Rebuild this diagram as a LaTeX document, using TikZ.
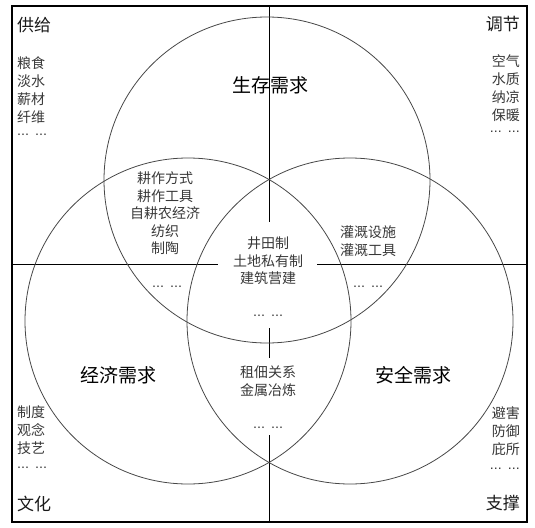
\documentclass[tikz,border=0pt]{standalone}
\usepackage{fontspec}
\setmainfont{Noto Sans CJK SC}
\newfontfamily\dejavu{DejaVu Sans}
\begin{document}
\begin{tikzpicture}[x=1pt,y=-1pt,
  frame/.style={draw=black, line width=1.1pt},
  divider/.style={draw=black, line width=1pt},
  ring/.style={draw=black!72, line width=0.8pt},
  head/.style={font=\fontsize{17}{17}\selectfont, text=black!90, inner sep=0pt},
  big/.style={font=\fontsize{19}{19}\selectfont, text=black, inner sep=0pt},
  lst/.style={font=\fontsize{14}{18}\selectfont, text=black!78, inner sep=0pt},
  lens/.style={font=\fontsize{14}{17.5}\selectfont, text=black!78, inner sep=0pt, align=center},
  dots/.style={font=\dejavu\fontsize{12}{12}\selectfont, text=black!85, inner sep=0pt},
]
\useasboundingbox (0,0) rectangle (535,527);
\newcommand{\mydots}{⋯\hspace{6pt}⋯}

% frame and dividers
\draw[frame] (12,6) rectangle (527,522);
\coordinate (vt) at (269.5,6);
\coordinate (va) at (269.5,222);
\coordinate (vb) at (269.5,328);
\coordinate (vc) at (269.5,358);
\coordinate (vd) at (269.5,435);
\coordinate (ve) at (269.5,522);
\coordinate (hl) at (12,264);
\coordinate (ha) at (218,264);
\coordinate (hb) at (317,264);
\coordinate (hr) at (527,264);
\draw[divider] (vt) -- (va);
\draw[divider] (vb) -- (vc);
\draw[divider] (vd) -- (ve);
\draw[divider] (hl) -- (ha);
\draw[divider] (hb) -- (hr);

% circles
\draw[ring] (267,180) circle[radius=163pt];
\draw[ring] (188,321) circle[radius=163pt];
\draw[ring] (350,321) circle[radius=163pt];

% corner headings
\node[head, anchor=west] (gongji) at (17,25) {供给};
\node[head, anchor=east] (tiaojie) at (520,24) {调节};
\node[head, anchor=west] (wenhua) at (17,504) {文化};
\node[head, anchor=east] (zhicheng) at (520,503) {支撑};

% corner lists
\node[lst, anchor=west, align=left] (listA) at (17,90) {粮食\\淡水\\薪材\\纤维};
\node[dots, anchor=west] (dotsA) at (17,136) {\mydots};
\node[lst, anchor=east, align=right] (listB) at (520,88) {空气\\水质\\纳凉\\保暖};
\node[dots, anchor=east] (dotsB) at (520,133) {\mydots};
\node[lst, anchor=west, align=left] (listC) at (17,430) {制度\\观念\\技艺};
\node[dots, anchor=west] (dotsC) at (17,469) {\mydots};
\node[lst, anchor=east, align=right] (listD) at (520,431) {避害\\防御\\庇所};
\node[dots, anchor=east] (dotsD) at (520,470) {\mydots};

% circle titles
\node[big] (shengcun) at (270,85) {生存需求};
\node[big] (jingji) at (118,375) {经济需求};
\node[big] (anquan) at (413,375) {安全需求};

% lens texts
\node[lens] (lensTL) at (165,213.5) {耕作方式\\耕作工具\\自耕农经济\\纺织\\制陶};
\node[dots] (dotsTL) at (167,288) {\mydots};
\node[lens] (lensC) at (268,261) {井田制\\土地私有制\\建筑营建};
\node[dots] (dotsC2) at (268,317) {\mydots};
\node[lens] (lensTR) at (368,241) {灌溉设施\\灌溉工具};
\node[dots] (dotsTR) at (368,288) {\mydots};
\node[lens] (lensB) at (268,381) {租佃关系\\金属冶炼};
\node[dots] (dotsB2) at (268,429) {\mydots};
\end{tikzpicture}
\end{document}
